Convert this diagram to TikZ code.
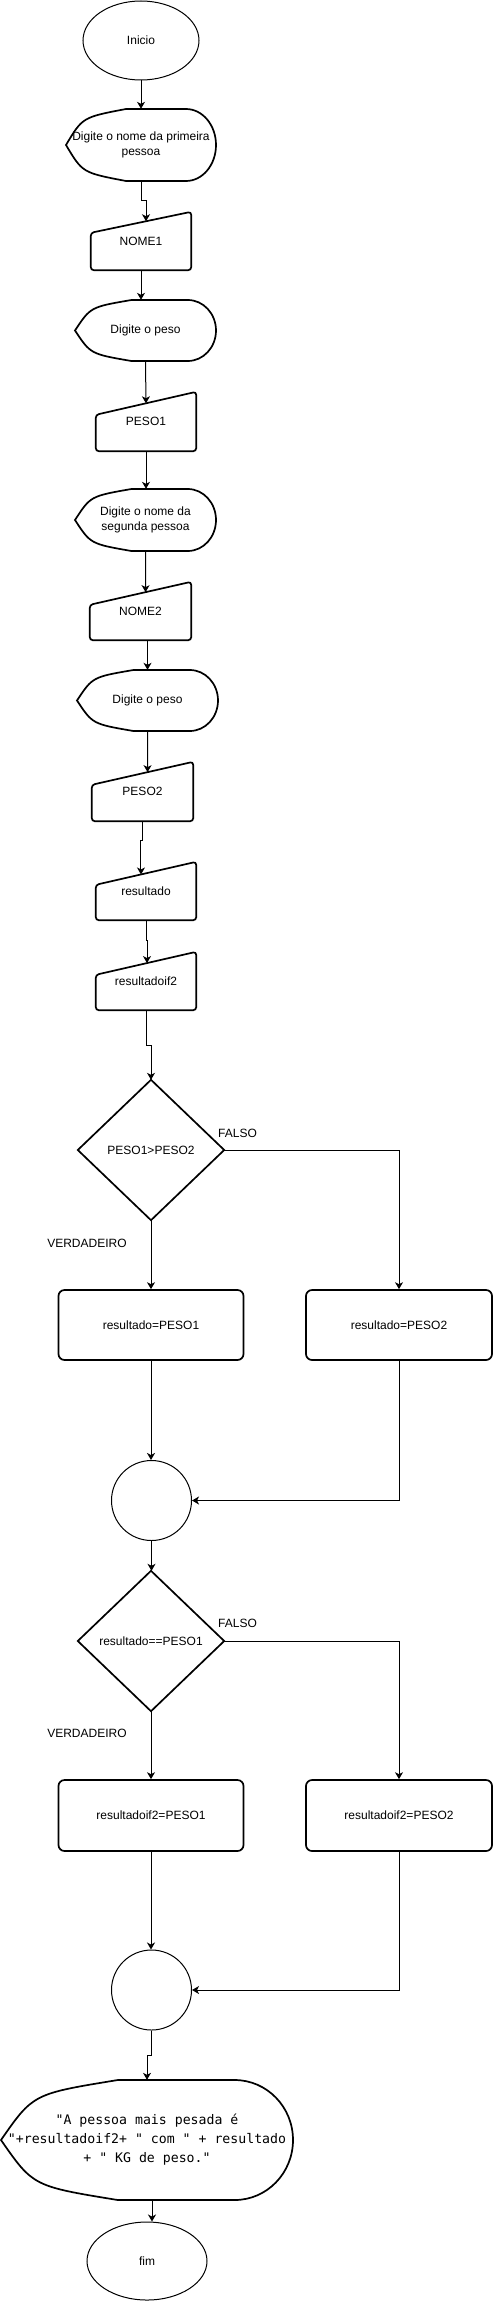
\documentclass[tikz,border=0pt]{standalone}
\usepackage{fontspec}
\setmainfont{Liberation Sans}
\newfontfamily\monofnt{DejaVu Sans Mono}
\usetikzlibrary{arrows.meta,calc,shapes.geometric}
\tikzset{
  base/.style={font=\fontsize{12}{14.5}\selectfont, align=center, inner sep=0pt},
  thinline/.style={line width=1pt},
  boldline/.style={line width=1.7pt},
  conn/.style={line width=1pt, -{Stealth[length=7pt,width=8pt,inset=2pt]}},
  lbl/.style={font=\fontsize{12}{14}\selectfont, inner sep=0pt},
  frame/.style={base, rectangle, draw=none},
  monotext/.style={font=\monofnt\fontsize{13.2}{19}\selectfont},
  boxnode/.style={base, rectangle, draw, boldline, rounded corners=6pt, minimum width=185pt},
  ellnode/.style={base, ellipse, draw, thinline},
  circnode/.style={base, circle, draw, thinline, minimum size=80pt},
}
% display shape: [node options], name, cx, cy, w, h, text
\newcommand\dispshape[7][]{%
  \pgfmathsetmacro\dsL{#3-#5/2}\pgfmathsetmacro\dsR{#3+#5/2}%
  \pgfmathsetmacro\dsT{#4-#6/2}\pgfmathsetmacro\dsB{#4+#6/2}%
  \pgfmathsetmacro\dsA{\dsL+0.4*#5}\pgfmathsetmacro\dsC{\dsL+0.11*#5}%
  \pgfmathsetmacro\dsD{\dsR-0.2*#5}%
  \pgfmathsetmacro\dsRX{0.2*#5}\pgfmathsetmacro\dsRY{#6/2}%
  \pgfmathsetmacro\dsCT{\dsT+0.115*#6}\pgfmathsetmacro\dsCB{\dsB-0.115*#6}%
  \draw[boldline] (\dsL,#4) .. controls (\dsC,\dsCT) .. (\dsA,\dsT) -- (\dsD,\dsT)
     arc[start angle=90,end angle=-90,x radius=\dsRX pt,y radius=\dsRY pt]
     -- (\dsA,\dsB) .. controls (\dsC,\dsCB) .. (\dsL,#4) -- cycle;
  \node[frame,minimum width=#5pt,minimum height=#6pt,#1] (#2) at (#3,#4) {#7};
}
% manual input shape: name, cx, cy, w, h, slant, text
\newcommand\manshape[7]{%
  \node[frame,minimum width=#4pt,minimum height=#5pt] (#1) at (#2,#3) {#7};
  \draw[boldline,rounded corners=3pt] (#1.south west) -- ([yshift=-#6pt]#1.north west)
     -- (#1.north east) -- (#1.south east) -- cycle;
}
\begin{document}
\begin{tikzpicture}[x=1pt,y=-1pt]
\fill[white] (0,0) rectangle (493,2301);
\useasboundingbox (0,0) rectangle (493,2301);

% nodes
\node[ellnode,minimum width=116pt,minimum height=79pt] (ini) at (141,40.5) {Inicio};
\dispshape{d1}{141}{145}{150}{72}{Digite o nome da primeira\\pessoa}
\manshape{n1}{141}{241}{100}{58}{21}{NOME1}
\dispshape{d2}{145.5}{330.5}{141}{61}{Digite o peso}
\manshape{p1}{146}{421.5}{100}{59}{23}{PESO1}
\dispshape{d3}{145.5}{520}{141}{62}{Digite o nome da\\segunda pessoa}
\manshape{n2}{140.5}{611}{101}{58}{23}{NOME2}
\dispshape{d4}{147.5}{700.5}{141}{61}{Digite o peso}
\manshape{p2}{142.5}{791.5}{101}{59}{23}{PESO2}
\manshape{r1}{146}{891}{100}{58}{23}{resultado}
\manshape{r2}{146}{981}{100}{58}{23}{resultadoif2}

\node[frame,minimum width=146pt,minimum height=140pt] (dm1) at (151,1150) {PESO1>PESO2};
\draw[boldline] (dm1.north) -- (dm1.east) -- (dm1.south) -- (dm1.west) -- cycle;
\node[boxnode,minimum height=70pt] (b1) at (151,1325) {resultado=PESO1};
\node[boxnode,minimum height=70pt,minimum width=186pt] (b2) at (399,1325) {resultado=PESO2};
\node[circnode] (c1) at (151.5,1500.5) {};

\node[frame,minimum width=146pt,minimum height=140pt] (dm2) at (151,1641) {resultado==PESO1};
\draw[boldline] (dm2.north) -- (dm2.east) -- (dm2.south) -- (dm2.west) -- cycle;
\node[boxnode,minimum height=71pt] (b3) at (151,1815.5) {resultadoif2=PESO1};
\node[boxnode,minimum height=71pt,minimum width=186pt] (b4) at (399,1815.5) {resultadoif2=PESO2};
\node[circnode] (c2) at (151.5,1990) {};

\dispshape[monotext]{d5}{147}{2140}{292}{120}{"A pessoa mais pesada é\\"+resultadoif2+ " com " + resultado\\+ " KG de peso."}
\node[ellnode,minimum width=120pt,minimum height=78pt] (fim) at (147,2261) {fim};

% labels
\node[lbl,anchor=west] (f1) at (218,1133) {FALSO};
\node[lbl] (v1) at (87,1243) {VERDADEIRO};
\node[lbl,anchor=west] (f2) at (218,1623) {FALSO};
\node[lbl] (v2) at (87,1733) {VERDADEIRO};

% connectors
\draw[conn] (ini.south) -- (ini.south |- d1.north);
\draw[conn] (d1.south) -- ++(0,19) -| ($([yshift=-21pt]n1.north west)!0.55!(n1.north east)$);
\draw[conn] (n1.south) -- (n1.south |- d2.north);
\draw[conn] (d2.south) -- ($([yshift=-23pt]p1.north west)!0.5!(p1.north east)$);
\draw[conn] (p1.south) -- (p1.south |- d3.north);
\draw[conn] (d3.south) -- ($([yshift=-23pt]n2.north west)!0.55!(n2.north east)$);
\draw[conn] (d4.north |- n2.south) -- (d4.north);
\draw[conn] (d4.south) -- ($([yshift=-23pt]p2.north west)!0.55!(p2.north east)$);
\draw[conn] (p2.south) -- ++(0,19) -| ($([yshift=-23pt]r1.north west)!0.45!(r1.north east)$);
\draw[conn] (r1.south) -- ++(0,20) -| ($([yshift=-23pt]r2.north west)!0.51!(r2.north east)$);
\draw[conn] (r2.south) -- ++(0,35) -| (dm1.north);

\draw[conn] (dm1.south) -- (b1.north);
\draw[conn] (dm1.east) -| (b2.north);
\draw[conn] (b1.south) -- (b1.south |- c1.north);
\draw[conn] (b2.south) |- (c1.east);
\draw[conn] (c1.south) -- (c1.south |- dm2.north);

\draw[conn] (dm2.south) -- (b3.north);
\draw[conn] (dm2.east) -| (b4.north);
\draw[conn] (b3.south) -- (b3.south |- c2.north);
\draw[conn] (b4.south) |- (c2.east);
\draw[conn] (c2.south) -- ++(0,25) -| (d5.north);
\coordinate (d5o) at ($(d5.south)+(5,0)$);
\draw[conn] (d5o) -- (d5o |- fim.north);
\end{tikzpicture}
\end{document}
